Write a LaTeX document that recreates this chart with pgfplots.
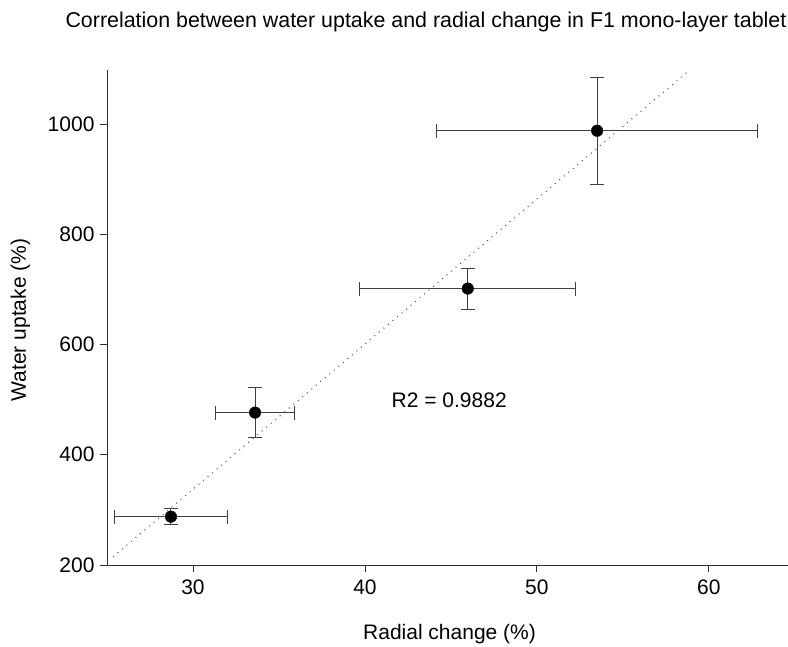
\documentclass[border=0pt]{standalone}
\usepackage{fontspec}
\setmainfont{Liberation Sans}
\usepackage{pgfplots}
\usepackage{pgfplotstable}
\pgfplotsset{compat=1.18}
\definecolor{errgray}{HTML}{404040}
\definecolor{axgray}{HTML}{303030}
\pgfplotstableread{
x y ex ey
28.72 287.7 3.27 14.6
33.61 476.5 2.30 45.9
45.98 701.5 6.27 37.2
53.50 987.8 9.35 97.3
}\datatab
\begin{document}
\begin{tikzpicture}[x=1pt,y=1pt]
\begin{axis}[
  at={(107pt,81pt)}, anchor=south west,
  scale only axis, width=681pt, height=495pt,
  xmin=25, xmax=64.6, ymin=200, ymax=1098,
  axis x line*=bottom, axis y line*=left,
  axis line style={-, axgray, line width=0.9pt},
  xtick={30,40,50,60}, ytick={200,400,600,800,1000},
  tick align=outside, major tick length=7pt,
  tick style={axgray, line width=0.9pt},
  /pgf/number format/assume math mode=true,
  /pgf/number format/1000 sep={},
  ticklabel style={font=\fontsize{21}{25}\selectfont},
  xticklabel style={yshift=-4pt},
  yticklabel style={xshift=-2pt},
  label style={font=\fontsize{21}{25}\selectfont},
  xlabel={Radial change (\%)},
  xlabel style={at={(axis description cs:0.503,-0.1515)}, anchor=base},
  ylabel={Water uptake (\%)},
  ylabel style={at={(axis description cs:-0.119,0.495)}, anchor=base, rotate=0},
  title={Correlation between water uptake and radial change in F1 mono-layer tablet},
  title style={at={(axis description cs:0.4684,1.0741)}, anchor=base, font=\fontsize{21.4}{25}\selectfont},
  clip=false,
]
\addplot[black!70, line width=1.1pt, dash pattern=on 0.9pt off 5pt] coordinates {(25.35,215) (58.72,1093.6)};
\addplot[only marks, mark=*, mark size=5.8pt, mark options={fill=black, draw=black},
  error bars/.cd, x dir=both, y dir=both, x explicit, y explicit,
  error bar style={errgray, line width=1pt},
  error mark options={rotate=90, errgray, line width=1pt, mark size=7pt}]
  table[x=x, y=y, x error=ex, y error=ey] {\datatab};
\node[anchor=base, font=\fontsize{21}{25}\selectfont] at (axis cs:44.9,485.5) {R2 = 0.9882};
\end{axis}
\pgfresetboundingbox
\path[use as bounding box] (0,0) rectangle (788pt,646pt);
\end{tikzpicture}
\end{document}
